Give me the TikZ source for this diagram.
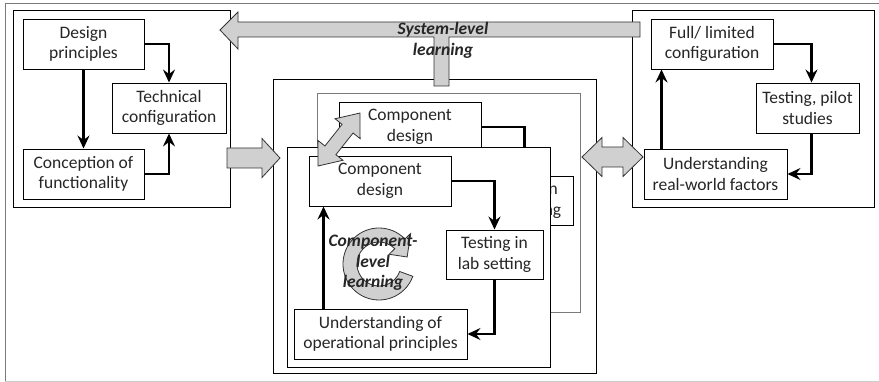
\documentclass[tikz,border=0pt]{standalone}
\usepackage{fontspec}
\setmainfont{Carlito}
\usetikzlibrary{arrows.meta}
\definecolor{txt}{HTML}{262626}
\definecolor{arrgray}{HTML}{D0D0D0}
\definecolor{framegray}{HTML}{7A7A7A}
\definecolor{lightframe}{HTML}{CCCCCC}
\begin{document}
\begin{tikzpicture}[x=1pt,y=-1pt,
  every node/.style={font=\fontsize{17.5}{20.5}\selectfont, text=txt},
  box/.style={draw=black, fill=white, line width=0.95pt, align=center, inner sep=0pt},
  frame/.style={draw=black, fill=white, line width=0.95pt, inner sep=0pt},
  backframe/.style={draw=framegray, fill=white, line width=0.95pt, inner sep=0pt},
  conn/.style={line width=2.8pt, -{Stealth[length=13pt,width=12pt,inset=4.5pt]}},
  blockarrow/.style={fill=arrgray, draw=black!80, line width=0.8pt, line join=miter},
  ital/.style={font=\fontsize{17.5}{20.5}\selectfont\bfseries\itshape, align=center, text=txt}
]
\useasboundingbox (0,0) rectangle (879,382);
% outer frame
\draw[framegray, line width=0.9pt] (879,3) -- (5,3) -- (5,381);
\draw[lightframe, line width=0.9pt] (5,381) -- (879,381);

% ---------- left box ----------
\node[frame, minimum width=217pt, minimum height=197pt] (L) at (121.5,108.5) {};
\node[box, minimum width=121pt, minimum height=50pt] (DP) at (83.5,44) {Design\\principles};
\node[box, minimum width=114pt, minimum height=50pt] (TC) at (169,108) {Technical\\configuration};
\node[box, minimum width=121pt, minimum height=50pt] (CF) at (83.5,174) {Conception of\\functionality};
\draw[conn] (DP.south) -- (CF.north);
\draw[conn] (DP.east) -| (TC.north);
\draw[conn] (CF.east) -| (TC.south);

% ---------- right box ----------
\node[frame, minimum width=242pt, minimum height=197pt] (R) at (753,108.5) {};
\node[box, minimum width=122pt, minimum height=50pt] (FC) at (712,44) {Full/ limited\\configuration};
\node[box, minimum width=103pt, minimum height=50pt] (TP) at (807.5,108) {Testing, pilot\\studies};
\node[box, minimum width=143pt, minimum height=50pt] (UR) at (715.5,174) {Understanding\\real-world factors};
\draw[conn] (FC.east) -| ([xshift=4pt]TP.north);
\draw[conn] ([xshift=4pt]TP.south) |- (UR.east);
\draw[conn] ([xshift=18pt]UR.north west) -- ([xshift=18pt]UR.north west |- FC.south);

% ---------- central box ----------
\node[frame, minimum width=323pt, minimum height=294pt] (C) at (434.5,226) {};

% back layer
\node[backframe, minimum width=263pt, minimum height=219pt] (BL) at (448.5,202.5) {};
\node[box, minimum width=142pt, minimum height=50pt] (BCD) at (410,127) {Component\\design};
\node[box, minimum width=97pt, minimum height=49pt] (BTL) at (524.5,200.5) {Testing in\\lab setting};
\draw[conn] (BCD.east) -| (BTL.north);

% front layer
\node[frame, minimum width=263pt, minimum height=220pt] (FL) at (418.5,257) {};
\node[box, minimum width=142pt, minimum height=50pt] (CD) at (380,181) {Component\\design};
\node[box, minimum width=97pt, minimum height=49pt] (TL) at (494.5,254.5) {Testing in\\lab setting};
\node[box, minimum width=173pt, minimum height=50pt] (UO) at (380.5,334) {Understanding of\\operational principles};
\draw[conn] (CD.east) -| (TL.north);
\draw[conn] (TL.south) |- (UO.east);
\draw[conn] ([xshift=30pt]UO.north west) -- ([xshift=15pt]CD.south west);

% circular arrow
\begin{scope}[shift={(379,264)}, yscale=-1]
  \path[blockarrow] (44:36) arc[start angle=44, end angle=340, radius=36]
    -- (340:22) arc[start angle=340, end angle=44, radius=22]
    -- (44:14) -- (14:29) -- (44:44) -- cycle;
\end{scope}
\node[ital] (CLL) at (373,263) {Component-\\level\\learning};

% diagonal double arrow between component designs
\coordinate (dA) at (318,166);
\begin{scope}[shift={(dA)}, rotate=51.6]
  \path[blockarrow] (0,0) -- (20,16) -- (20,7) -- (47.6,7) -- (47.6,16) -- (67.6,0)
    -- (47.6,-16) -- (47.6,-7) -- (20,-7) -- (20,-16) -- cycle;
\end{scope}

% left block arrow into central box
\path[blockarrow] (227,148) -- (262,148) -- (262,138.5) -- (280,158) -- (262,177.5)
  -- (262,168) -- (227,168) -- cycle;

% right double block arrow
\coordinate (rA) at (582,157);
\begin{scope}[shift={(rA)}]
  \path[blockarrow] (0,0) -- (20,-19.5) -- (20,-10) -- (41,-10) -- (41,-19.5) -- (61,0)
    -- (41,19.5) -- (41,10) -- (20,10) -- (20,19.5) -- cycle;
\end{scope}

% system-level learning T arrow
\path[blockarrow] (220,30) -- (238,12) -- (238,22) -- (640,22) -- (640,37) -- (449,37)
  -- (449,86) -- (434,86) -- (434,37) -- (238,37) -- (238,49) -- cycle;
\node[ital] (SLL) at (443,40.5) {System-level\\learning};

\end{tikzpicture}
\end{document}
